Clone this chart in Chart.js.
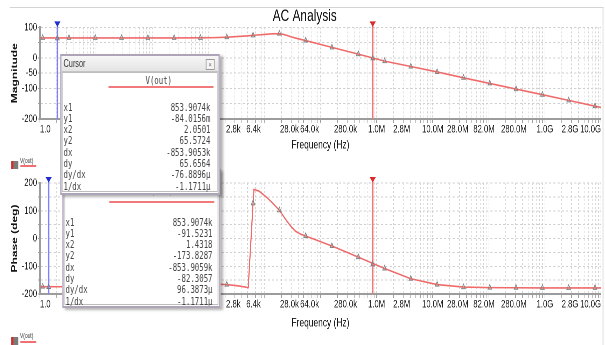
<!DOCTYPE html>
<html>
<head>
<meta charset="utf-8">
<script src="https://cdn.jsdelivr.net/npm/chart.js@4.4.1/dist/chart.umd.min.js"></script>
<style>
html,body{margin:0;padding:0;background:#fff;width:605px;height:345px;overflow:hidden;}
#stage{position:absolute;left:0;top:0;width:864px;height:345px;transform:scaleX(0.7);transform-origin:0 0;font-family:'Liberation Sans',Arial,sans-serif;}
canvas{position:absolute;left:0;}
#cMag{top:0;}
#cPh{top:170px;}
.frame{position:absolute;left:14px;top:7px;width:847px;height:345px;border-top:1px solid #d4d4d4;border-right:1px solid #d4d4d4;}
.win{position:absolute;background:#fff;border:2px solid #aea4b8;box-shadow:4px 2px 3px rgba(0,0,0,0.30);box-sizing:border-box;overflow:hidden;}
.bar{position:absolute;left:0;top:0;right:0;height:15px;background:linear-gradient(#f7f7f7,#e4e4e4);border-bottom:1px solid #c4c4c4;}
.bar span{position:absolute;left:3px;top:0;line-height:15px;font-size:10.5px;color:#333;}
.close{position:absolute;top:3px;width:11px;height:9px;border:1px solid #9a9a9a;background:#f4f4f4;font-size:8px;line-height:9px;text-align:center;color:#666;}
.body{position:absolute;left:1px;right:1px;top:16px;bottom:1px;border:1px solid #bdbdbd;}
.mono{position:absolute;font-family:'DejaVu Sans Mono','Liberation Mono',monospace;font-size:10.5px;color:#454545;line-height:11px;white-space:nowrap;}
.rline{position:absolute;height:2px;background:#f07a7a;}
.leg{position:absolute;}
.legicon{position:absolute;width:10px;height:8px;background:#7a7a7a;border-left:3px solid #e02828;box-sizing:border-box;}
.legtxt{position:absolute;font-size:7px;line-height:7px;color:#333;}
.legline{position:absolute;width:23px;height:1.5px;background:#f07070;}
</style>
</head>
<body>
<div id="stage">
  <div class="frame"></div>
  <canvas id="cMag" width="864" height="170"></canvas>
  <canvas id="cPh" width="864" height="175"></canvas>
  <div class="leg" style="left:15.7px;top:160.5px;"><div class="legicon" style="left:0;top:0;"></div></div>
  <div class="legtxt" style="left:28.6px;top:156.5px;">V(out)</div>
  <div class="legline" style="left:28.6px;top:165px;"></div>
  <div class="leg" style="left:15.7px;top:336.5px;"><div class="legicon" style="left:0;top:0;"></div></div>
  <div class="legtxt" style="left:28.6px;top:331.5px;">V(out)</div>
  <div class="legline" style="left:28.6px;top:341px;"></div>
</div>
<script>
// ---------------- data ----------------
const freqHz = [1, 1.12, 3.3, 9.7, 28.5, 84, 247, 726, 1300, 2140, 3500, 5160, 6290, 6530, 8000, 10800, 14000, 18500, 22000, 25500, 30000, 36000, 45000, 54500, 160000, 472000, 1.39e6, 4.08e6, 1.2e7, 3.54e7, 1.04e8, 3.06e8, 9.02e8, 2.65e9, 7.81e9, 1e10];
const magnitudeDb = [65.6, 65.6, 65.6, 65.6, 65.6, 65.6, 65.6, 65.8, 66.5, 68, 70.5, 72.5, 74, 74.3, 75.5, 77.5, 79, 79.5, 77, 73.5, 69, 65, 60.5, 57, 34.5, 12.5, -10.5, -28, -46, -65, -83.5, -102, -120.5, -139, -158, -162];
const phaseDeg = [-173.5, -173.6, -173.9, -173.8, -173, -171.5, -169, -166, -164.5, -166, -171, -177, 127, 176.5, 171, 150, 128, 102, 80, 61, 43, 26, 15, 9, -27, -67, -108, -145, -166, -175, -177, -177.5, -178, -178, -178, -178];
const markerFreqHz = [1.12, 3.3, 9.7, 28.5, 84, 247, 726, 2140, 6290, 18500, 54500, 160000, 472000, 1.39e6, 4.08e6, 1.2e7, 3.54e7, 1.04e8, 3.06e8, 9.02e8, 2.65e9, 7.81e9];

const xTickHz = [1, 2800, 6400, 28000, 64000, 280000, 1e6, 2.8e6, 1e7, 2.8e7, 8.2e7, 2.8e8, 1e9, 2.8e9, 1e10];
const xTickText = ['1.0', '2.8k', '6.4k', '28.0k', '64.0k', '280.0k', '1.0M', '2.8M', '10.0M', '28.0M', '82.0M', '280.0M', '1.0G', '2.8G', '10.0G'];
const magTickLabels = [100, 0, -50, -100, -200];
const phaseTickLabels = [200, 100, 0, -100, -200];

// cursors: [cursor 1 (red), cursor 2 (blue)]
const magCursorX = [853907.4, 2.0501];
const magCursorY = [-0.0840156, 65.5724];
const phaseCursorX = [853907.4, 1.4318];
const phaseCursorY = [-91.5231, -173.8287];

const readoutNames = ['x1', 'y1', 'x2', 'y2', 'dx', 'dy', 'dy/dx', '1/dx'];
const magReadout = ['853.9074k', '-84.0156m', '2.0501', '65.5724', '-853.9053k', '65.6564', '-76.8896\u00b5', '-1.1711\u00b5'];
const phaseReadout = ['853.9074k', '-91.5231', '1.4318', '-173.8287', '-853.9059k', '-82.3057', '96.3873\u00b5', '-1.1711\u00b5'];

// ---------------- helpers ----------------
const FONT = "'Liberation Sans', Arial, sans-serif";
const gridHz = [];
for (let e = 0; e < 10; e++) { for (let m = 1; m <= 9; m++) gridHz.push(m * Math.pow(10, e)); }
gridHz.push(1e10);
const gridSet = new Set(gridHz);
const xLabelMap = new Map(xTickHz.map((v, i) => [v, xTickText[i]]));
const allXTicks = Array.from(new Set(gridHz.concat(xTickHz))).sort((a, b) => a - b);
const markerSet = new Set(markerFreqHz);

function cursorPlugin(xs, ys) {
  const styles = [{line: '#f07878', head: '#e02a2a'}, {line: '#7f7fff', head: '#1f2fd0'}];
  return {
    id: 'cursors',
    afterDatasetsDraw(chart) {
      const {ctx, chartArea} = chart;
      const sx = chart.scales.x, sy = chart.scales.y;
      xs.forEach((xv, i) => {
        const px = sx.getPixelForValue(xv);
        const py = sy.getPixelForValue(ys[i]);
        ctx.save();
        ctx.strokeStyle = styles[i].line;
        ctx.lineWidth = 2.2;
        ctx.beginPath();
        ctx.moveTo(px, chartArea.top - 3);
        ctx.lineTo(px, chartArea.bottom);
        ctx.stroke();
        ctx.fillStyle = styles[i].head;
        ctx.beginPath();
        ctx.moveTo(px - 4.5, chartArea.top - 6);
        ctx.lineTo(px + 4.5, chartArea.top - 6);
        ctx.lineTo(px, chartArea.top - 0.5);
        ctx.closePath();
        ctx.fill();
        ctx.strokeStyle = '#7a7a7a';
        ctx.lineWidth = 1;
        ctx.beginPath();
        ctx.moveTo(px - 2.6, py + 1.8);
        ctx.lineTo(px + 2.6, py + 1.8);
        ctx.lineTo(px, py - 2.4);
        ctx.closePath();
        ctx.stroke();
        ctx.restore();
      });
    }
  };
}

function makeChart(canvasId, cfg) {
  const canvas = document.getElementById(canvasId);
  return new Chart(canvas, {
    type: 'line',
    data: {
      datasets: [{
        label: 'V(out)',
        data: freqHz.map((f, i) => ({x: f, y: cfg.values[i]})),
        borderColor: '#f06a6a',
        borderWidth: 1.6,
        tension: 0,
        fill: false,
        pointStyle: 'triangle',
        pointRadius: c => (c.raw && markerSet.has(c.raw.x)) ? 3 : 0,
        pointHoverRadius: 0,
        pointBorderColor: '#858585',
        pointBackgroundColor: 'rgba(255,255,255,0)',
        pointBorderWidth: 1
      }]
    },
    options: {
      responsive: false,
      animation: false,
      devicePixelRatio: 2,
      events: [],
      layout: {padding: {left: 12, right: 5.4, top: cfg.padTop, bottom: 0}},
      plugins: {
        legend: {display: false},
        tooltip: {enabled: false},
        title: cfg.title ? {
          display: true, text: cfg.title, color: '#111',
          font: {family: FONT, size: 17, weight: 'normal'},
          padding: {top: 6, bottom: 1}
        } : {display: false}
      },
      scales: {
        x: {
          type: 'logarithmic',
          min: 1, max: 1e10,
          afterBuildTicks: s => { s.ticks = allXTicks.map(v => ({value: v})); },
          afterFit: s => { s.height = 51; },
          ticks: {
            autoSkip: false, maxRotation: 0, minRotation: 0, align: 'inner', padding: 0,
            color: '#1c1c1c', font: {family: FONT, size: 11},
            callback: v => xLabelMap.has(v) ? xLabelMap.get(v) : ''
          },
          grid: {
            color: c => (c.tick && gridSet.has(c.tick.value)) ? '#d3d3d3' : 'rgba(0,0,0,0)',
            lineWidth: 1,
            drawTicks: true,
            tickLength: 4,
            tickColor: c => (c.tick && gridSet.has(c.tick.value)) ? '#a0a0a0' : 'rgba(0,0,0,0)'
          },
          border: {display: true, color: '#9c9c9c', width: 2, dash: [2, 2]},
          title: {
            display: true, text: 'Frequency (Hz)', color: '#151515',
            font: {family: FONT, size: 12}, padding: {top: 0, bottom: cfg.xTitlePad}
          }
        },
        y: {
          type: 'linear',
          min: cfg.min, max: cfg.max,
          afterFit: s => { s.width = 45; },
          ticks: {
            stepSize: 50, autoSkip: false, padding: 1,
            color: '#1c1c1c', font: {family: FONT, size: 11},
            callback: v => cfg.labels.includes(v) ? String(v) : ''
          },
          grid: {color: '#cfcfcf', lineWidth: 1, tickLength: 3, tickColor: '#a0a0a0'},
          border: {display: true, color: '#9c9c9c', width: 2.5, dash: [3, 3]},
          title: {
            display: true, text: cfg.yTitle, color: '#151515',
            font: {family: FONT, size: 12, weight: 'bold'}, padding: {top: 2, bottom: 0}
          }
        }
      }
    },
    plugins: [cursorPlugin(cfg.cx, cfg.cy)]
  });
}

makeChart('cMag', {
  values: magnitudeDb, min: -200, max: 100, labels: magTickLabels,
  yTitle: 'Magnitude', title: 'AC Analysis', padTop: 0, xTitlePad: 17.8,
  cx: magCursorX, cy: magCursorY
});
makeChart('cPh', {
  values: phaseDeg, min: -200, max: 200, labels: phaseTickLabels,
  yTitle: 'Phase (deg)', title: null, padTop: 13, xTitlePad: 14.8,
  cx: phaseCursorX, cy: phaseCursorY
});

// ---------------- cursor windows (HTML text) ----------------
function makeWindow(left, top, width, height, values, z, hdrTop) {
  const stage = document.getElementById('stage');
  const w = document.createElement('div');
  w.className = 'win';
  w.style.cssText = `left:${left}px;top:${top}px;width:${width}px;height:${height}px;z-index:${z};`;
  const bar = document.createElement('div');
  bar.className = 'bar';
  bar.innerHTML = '<span>Cursor</span>';
  w.appendChild(bar);
  const cl = document.createElement('div');
  cl.className = 'close';
  cl.style.left = (width - 22) + 'px';
  cl.textContent = '\u00d7';
  w.appendChild(cl);
  const body = document.createElement('div');
  body.className = 'body';
  w.appendChild(body);
  const hdr = document.createElement('div');
  hdr.className = 'mono';
  hdr.style.cssText = `left:${width * 0.61 - 20}px;top:${hdrTop}px;width:40px;text-align:center;`;
  hdr.textContent = 'V(out)';
  w.appendChild(hdr);
  const rl = document.createElement('div');
  rl.className = 'rline';
  rl.style.cssText = `left:${width - 161}px;top:30px;width:150px;`;
  w.appendChild(rl);
  readoutNames.forEach((n, i) => {
    const y = 45.5 + i * 11.3;
    const a = document.createElement('div');
    a.className = 'mono';
    a.style.cssText = `left:3px;top:${y}px;`;
    a.textContent = n;
    w.appendChild(a);
    const b = document.createElement('div');
    b.className = 'mono';
    b.style.cssText = `right:${width - 217}px;top:${y}px;text-align:right;`;
    b.textContent = values[i];
    w.appendChild(b);
  });
  stage.appendChild(w);
}
makeWindow(88.6, 169, 226, 139, phaseReadout, 5, 14);
makeWindow(85.7, 54, 228, 141, magReadout, 6, 19);
</script>
</body>
</html>
